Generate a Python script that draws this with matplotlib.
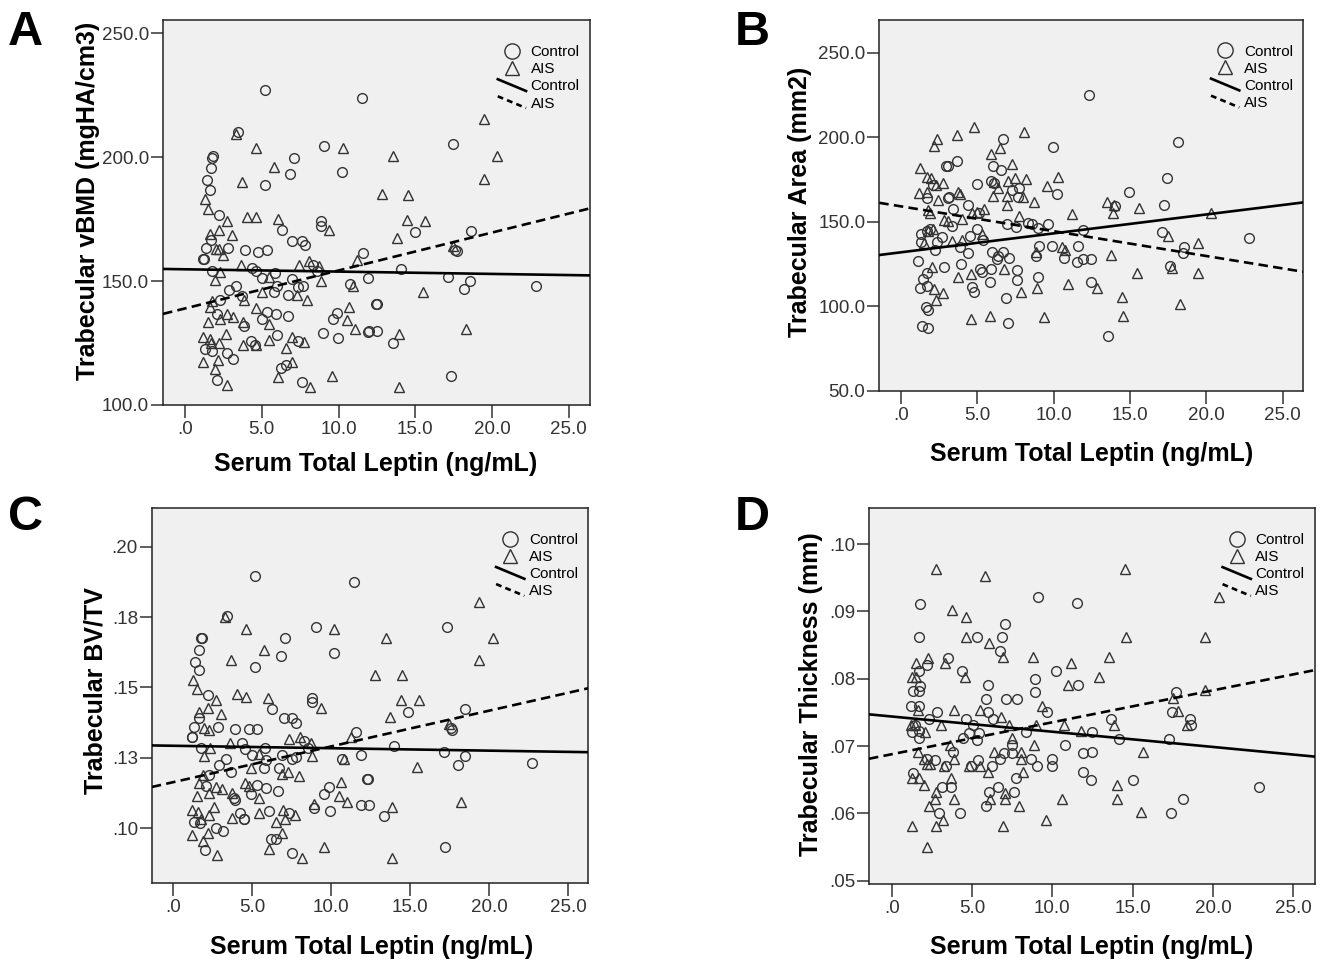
from decimal import Decimal, ROUND_HALF_UP

import matplotlib
matplotlib.use("Agg")
import matplotlib.pyplot as plt
import numpy as np
from matplotlib.legend_handler import HandlerLine2D
from matplotlib.lines import Line2D
from matplotlib.ticker import FuncFormatter, MultipleLocator

plt.rcParams["font.family"] = ["Liberation Sans", "DejaVu Sans"]

# ---- data: serum total leptin (x) vs trabecular parameters (y) ----
a_ctrl_x = [5.21, 11.5, 3.43, 1.8, 1.76, 1.67, 1.41, 1.63, 7.1, 9.06, 10.2, 6.84, 5.21, 2.21, 6.3,
            8.84, 8.84, 7.0, 7.6, 7.8, 1.67, 1.37, 2.82, 3.91, 4.78, 5.36, 1.19, 1.25, 11.6, 1.74,
            4.34, 4.63, 5.0, 5.86, 6.95, 8.32, 8.58, 11.94, 3.32, 2.89, 5.97, 5.8, 6.73, 7.38, 7.71,
            10.75, 3.69, 2.28, 2.06, 5.32, 5.93, 6.73, 5.0, 3.84, 9.62, 9.92, 11.94, 9.01, 9.99, 6.02,
            4.28, 4.56, 7.38, 1.3, 1.74, 2.71, 3.15, 6.23, 6.58, 2.06, 7.6,
            17.44, 14.98, 18.61, 17.6, 17.7, 14.05, 17.15, 18.57, 18.18, 22.87, 12.44, 12.5, 12.0,
            12.48, 13.57, 17.31]
a_ctrl_y = [227.0, 223.9, 210.3, 200.5, 199.8, 195.8, 190.7, 186.7, 199.8, 204.5, 194.2, 193.4, 188.8,
            176.8, 170.6, 174.1, 172.3, 166.3, 166.3, 164.7, 166.6, 163.4, 163.4, 162.6, 161.6, 162.6,
            158.9, 158.9, 161.2, 154.0, 155.3, 154.0, 151.3, 153.3, 150.9, 156.7, 154.0, 151.3, 148.2,
            146.5, 148.2, 145.6, 144.2, 147.6, 148.2, 148.9, 143.8, 142.5, 136.8, 137.5, 136.6, 135.8,
            134.8, 131.8, 134.8, 137.1, 129.5, 129.1, 127.2, 128.1, 125.9, 124.1, 125.9, 122.4, 121.8,
            120.8, 118.4, 115.1, 116.1, 110.0, 109.4,
            205.2, 169.7, 170.1, 162.6, 162.2, 154.9, 151.6, 150.0, 146.9, 148.0, 140.9, 140.9, 129.9,
            129.9, 125.1, 111.8]
a_ais_x = [3.32, 4.63, 10.27, 5.8, 3.73, 1.3, 1.52, 4.02, 4.63, 2.76, 6.04, 2.21, 3.04, 9.4, 1.63,
           2.0, 2.24, 2.45, 3.63, 7.45, 8.1, 8.75, 11.2, 2.28, 1.95, 5.5, 8.84, 10.92, 5.0, 3.84, 7.27,
           7.97, 1.74, 1.63, 4.63, 2.28, 2.76, 3.1, 1.52, 3.75, 5.5, 10.7, 10.53, 11.07, 1.19, 1.6, 1.7,
           2.24, 2.67, 3.8, 4.63, 5.5, 7.0, 7.75, 6.58, 1.19, 2.17, 1.95, 6.95, 6.08, 9.55, 2.76, 8.14,
           19.48, 13.53, 20.3, 19.48, 12.81, 14.55, 14.48, 15.64, 13.79, 17.44, 15.48, 18.31, 13.94,
           13.94]
a_ais_y = [209.5, 203.8, 203.8, 196.1, 190.2, 183.1, 179.0, 175.7, 175.7, 174.4, 175.0, 170.6, 168.7,
           170.7, 168.9, 162.8, 162.8, 160.7, 156.7, 156.7, 158.3, 155.9, 158.5, 153.6, 150.5, 151.8,
           150.0, 148.2, 145.6, 142.2, 144.2, 142.2, 141.9, 139.5, 139.3, 134.6, 136.8, 135.5, 133.5,
           133.5, 132.6, 139.5, 134.2, 130.8, 127.5, 126.5, 125.2, 125.0, 128.8, 124.1, 124.1, 126.1,
           127.5, 125.5, 122.8, 117.4, 118.1, 114.7, 117.4, 111.1, 111.7, 108.0, 107.1,
           215.6, 200.5, 200.5, 191.4, 185.1, 184.7, 174.6, 174.4, 167.4, 164.3, 145.6, 130.8, 128.8,
           107.1]

b_ctrl_x = [6.7, 9.98, 3.65, 2.95, 3.1, 6.05, 6.55, 4.96, 5.88, 6.1, 2.12, 7.3, 7.75, 7.64, 10.2, 1.68,
            3.05, 3.15, 4.37, 3.43, 5.1, 3.36, 6.92, 7.51, 8.3, 8.6, 8.95, 9.6, 1.31, 1.7, 1.9, 2.66,
            4.96, 4.52, 5.39, 1.31, 2.34, 2.23, 3.87, 4.37, 5.94, 6.7, 6.3, 6.36, 7.07, 9.04, 8.82, 9.91,
            10.7, 11.6, 11.5, 1.14, 1.68, 2.82, 3.93, 5.18, 5.29, 5.9, 7.58, 8.99, 1.46, 1.68, 1.24,
            4.63, 4.8, 5.83, 7.58, 6.86, 1.62, 1.75, 1.4, 1.75, 7.03,
            12.34, 18.12, 17.4, 14.93, 14.02, 17.25, 11.94, 17.12, 18.56, 18.5, 22.8, 11.94, 12.45,
            12.45, 17.62, 13.54]
b_ctrl_y = [198.7, 194.0, 186.1, 182.9, 182.9, 182.9, 180.6, 172.1, 174.2, 173.2, 171.7, 169.0, 170.0,
            164.4, 166.4, 163.8, 163.8, 164.4, 159.9, 157.5, 154.9, 147.6, 148.6, 146.6, 149.3, 148.6,
            146.1, 148.6, 142.7, 144.6, 145.4, 141.1, 145.5, 141.5, 139.2, 138.2, 138.2, 133.2, 134.8,
            131.7, 132.2, 132.2, 127.9, 129.5, 128.3, 135.8, 129.7, 135.8, 128.3, 135.8, 126.3, 126.9,
            119.8, 123.0, 125.0, 122.0, 120.0, 121.8, 121.4, 117.5, 115.9, 111.9, 110.9, 111.5, 108.6,
            114.5, 115.5, 104.6, 99.3, 97.7, 88.3, 86.9, 89.8,
            225.0, 197.3, 176.0, 167.4, 159.3, 159.9, 145.1, 143.7, 134.8, 131.7, 140.1, 127.7, 127.7,
            114.5, 124.0, 82.3]
b_ais_x = [4.8, 8.03, 2.34, 2.18, 3.65, 6.48, 5.9, 7.29, 1.24, 1.68, 2.0, 2.27, 2.77, 6.11, 6.33,
           7.03, 7.47, 8.17, 10.26, 9.54, 1.18, 1.68, 2.45, 3.76, 3.87, 6.05, 6.92, 7.97, 8.73, 6.92,
           1.79, 1.9, 4.02, 4.67, 4.96, 5.46, 7.73, 2.8, 3.1, 11.22, 1.75, 2.1, 1.53, 3.36, 5.32, 3.97,
           8.82, 10.52, 10.74, 2.01, 3.71, 4.59, 6.77, 2.18, 2.77, 2.27, 7.86, 8.89, 10.92, 4.59, 5.83,
           9.39,
           13.47, 13.97, 13.9, 15.59, 20.31, 17.47, 19.48, 13.76, 15.44, 17.73, 19.48, 12.82, 14.45,
           18.28, 14.56]
b_ais_y = [206.2, 202.9, 198.7, 194.8, 201.3, 193.4, 189.8, 184.1, 182.0, 176.6, 175.6, 171.7, 173.1,
           173.7, 169.7, 174.1, 175.8, 175.2, 176.6, 171.3, 166.8, 167.4, 162.8, 167.8, 166.2, 165.4,
           165.4, 164.4, 161.8, 159.9, 156.9, 155.3, 151.4, 155.3, 155.7, 157.3, 153.4, 151.0, 150.2,
           154.5, 144.6, 145.4, 137.6, 138.4, 142.5, 139.0, 132.2, 135.2, 133.2, 123.4, 117.5, 119.0,
           121.8, 110.0, 107.6, 103.6, 108.6, 110.6, 113.1, 92.4, 94.2, 93.4,
           161.8, 159.9, 154.9, 158.3, 154.9, 141.5, 137.2, 130.3, 119.8, 122.4, 119.8, 110.6, 105.2,
           101.3, 94.2]

c_ctrl_x = [5.18, 11.43, 3.37, 1.75, 1.82, 1.64, 1.39, 1.6, 9.0, 7.05, 10.16, 6.8, 5.18, 2.17, 6.23,
            8.75, 8.79, 7.01, 7.53, 7.74, 1.64, 1.33, 2.8, 3.91, 4.76, 5.32, 1.2, 1.15, 11.57, 1.75,
            4.34, 4.55, 4.97, 5.81, 6.86, 8.27, 8.54, 11.85, 3.33, 2.9, 3.64, 5.89, 5.75, 6.69, 7.53,
            7.74, 10.65, 2.27, 2.06, 4.9, 5.26, 5.85, 6.65, 3.82, 3.88, 9.85, 9.53, 12.27, 12.31, 8.9,
            9.91, 4.21, 4.5, 4.46, 6.02, 7.32, 11.85, 12.37, 1.33, 1.68, 2.69, 3.11, 6.17, 6.52, 2.02,
            7.49,
            17.32, 14.86, 18.48, 17.6, 17.64, 13.95, 17.11, 18.43, 18.0, 22.68, 13.32, 17.21]
c_ctrl_y = [.1894, .1874, .1754, .1675, .1675, .1633, .1592, .1562, .1714, .1675, .1624, .1613, .1574,
            .1474, .1423, .1462, .1450, .1391, .1391, .1373, .1391, .1361, .1361, .1352, .1352, .1352,
            .1323, .1323, .1343, .1284, .1304, .1281, .1260, .1284, .1260, .1311, .1284, .1260, .1245,
            .1223, .1201, .1243, .1213, .1213, .1246, .1252, .1245, .1189, .1150, .1122, .1154, .1142,
            .1133, .1107, .1101, .1146, .1122, .1174, .1174, .1071, .1063, .1053, .1032, .1032, .1063,
            .1053, .1083, .1083, .1024, .1020, .1000, .0992, .0961, .0961, .0923, .0914,
            .1714, .1414, .1423, .1355, .1349, .1292, .1272, .1255, .1223, .1233, .1044, .0933]
c_ais_x = [3.28, 4.59, 10.16, 5.74, 3.64, 1.22, 1.47, 2.69, 4.0, 4.59, 5.96, 9.32, 2.17, 1.6, 3.01,
           1.96, 2.27, 3.6, 7.32, 8.0, 8.69, 11.22, 2.31, 1.96, 5.43, 8.75, 10.79, 4.9, 6.86, 7.28,
           7.97, 1.85, 1.64, 4.55, 4.76, 2.69, 3.07, 2.23, 3.74, 5.43, 10.58, 10.48, 11.0, 1.47, 2.59,
           1.18, 1.54, 2.23, 1.75, 3.74, 5.39, 6.94, 7.7, 8.9, 6.52, 7.07, 2.17, 1.18, 6.86, 1.85,
           6.02, 9.53, 2.74, 8.12,
           19.36, 13.43, 20.2, 19.36, 12.75, 14.48, 14.41, 15.53, 13.7, 17.42, 15.43, 18.22, 13.85,
           13.85]
c_ais_y = [.1749, .1707, .1707, .1633, .1596, .1525, .1494, .1456, .1476, .1465, .1464, .1426, .1426,
           .1414, .1406, .1355, .1349, .1304, .1316, .1323, .1304, .1323, .1284, .1257, .1264, .1257,
           .1245, .1213, .1193, .1201, .1186, .1190, .1162, .1162, .1150, .1146, .1139, .1124, .1124,
           .1107, .1166, .1115, .1095, .1115, .1077, .1065, .1059, .1047, .1032, .1036, .1053, .1065,
           .1047, .1086, .1024, .1032, .0985, .0976, .0985, .0956, .0925, .0933, .0905, .0893,
           .1805, .1675, .1675, .1596, .1545, .1545, .1456, .1456, .1394, .1371, .1217, .1095, .1077,
           .0893]

d_ctrl_x = [9.1, 11.56, 1.77, 1.67, 5.31, 6.88, 7.08, 6.73, 3.5, 2.19, 1.67, 4.38, 10.25, 1.77, 1.35,
            1.67, 6.0, 8.92, 8.92, 11.63, 1.21, 1.71, 5.88, 7.13, 7.81, 9.69, 2.81, 6.0, 2.35, 4.63,
            1.25, 1.67, 1.71, 1.42, 6.29, 5.04, 4.79, 5.42, 5.31, 4.42, 8.38, 7.5, 10.79, 11.92, 3.79,
            2.19, 2.71, 3.38, 5.38, 6.25, 6.77, 6.98, 7.46, 8.65, 9.06, 10.0, 10.0, 11.92, 4.96, 1.35,
            3.13, 3.71, 6.63, 6.08, 7.6, 7.75, 5.88, 2.96, 4.27,
            17.71, 17.46, 18.58, 18.65, 13.65, 12.5, 14.13, 17.25, 12.5, 12.4, 15.0, 22.88, 18.17,
            17.4]
d_ctrl_y = [.0922, .0912, .0911, .0862, .0862, .0862, .0881, .0841, .0831, .0821, .0812, .0811, .0811,
            .0790, .0782, .0782, .0791, .0800, .0780, .0791, .0760, .0760, .0770, .0770, .0770, .0750,
            .0750, .0750, .0741, .0741, .0721, .0723, .0712, .0732, .0741, .0731, .0719, .0719, .0709,
            .0712, .0721, .0701, .0701, .0690, .0691, .0681, .0680, .0670, .0680, .0671, .0681, .0690,
            .0690, .0681, .0670, .0681, .0671, .0662, .0671, .0660, .0640, .0640, .0640, .0632, .0632,
            .0652, .0611, .0601, .0601,
            .0781, .0750, .0741, .0731, .0741, .0721, .0711, .0711, .0691, .0650, .0650, .0640, .0621,
            .0601]
d_ais_x = [2.75, 5.83, 3.75, 4.63, 4.63, 6.08, 6.92, 2.25, 1.5, 3.33, 8.79, 11.15, 1.25, 1.5, 4.58,
           11.0, 1.63, 3.85, 5.52, 9.38, 1.21, 1.46, 3.08, 2.04, 6.83, 7.33, 10.73, 11.77, 9.0, 7.5,
           1.63, 3.65, 6.35, 8.08, 8.85, 1.98, 2.19, 2.4, 3.85, 3.23, 4.83, 5.52, 8.02, 6.0, 8.17, 1.25,
           1.67, 1.98, 3.71, 2.75, 2.67, 3.85, 6.15, 7.08, 7.04, 10.58, 2.29, 7.92, 3.17, 2.75, 1.25,
           6.92, 9.63, 2.19,
           14.54, 14.58, 19.54, 20.4, 13.54, 12.88, 19.54, 17.5, 17.81, 13.85, 18.38, 15.67, 14.0,
           14.0, 15.52]
d_ais_y = [.0963, .0953, .0902, .0892, .0862, .0853, .0832, .0831, .0823, .0823, .0832, .0823, .0802,
           .0802, .0802, .0791, .0753, .0753, .0753, .0760, .0732, .0732, .0731, .0721, .0743, .0732,
           .0732, .0722, .0732, .0712, .0691, .0701, .0691, .0691, .0701, .0681, .0673, .0673, .0681,
           .0671, .0671, .0671, .0681, .0662, .0662, .0652, .0652, .0643, .0652, .0632, .0621, .0621,
           .0621, .0630, .0621, .0621, .0611, .0611, .0591, .0581, .0581, .0581, .0591, .0550,
           .0963, .0862, .0862, .0922, .0832, .0802, .0783, .0771, .0752, .0731, .0731, .0691, .0642,
           .0622, .0602]

# fitted regression lines (intercept, slope) as drawn by SPSS
ctrl_fit = [(154.77, -0.0935), (131.9, 1.12), (0.1293, -8.67e-5), (0.0744, -2.26e-4)]
ais_fit = [(138.96, 1.532), (159.1, -1.469), (0.1164, 0.001269), (0.0688, 4.74e-4)]

panel_letters = ["A", "B", "C", "D"]
y_labels = ["Trabecular vBMD (mgHA/cm3)", "Trabecular Area (mm2)",
            "Trabecular BV/TV", "Trabecular Thickness (mm)"]
x_label = "Serum Total Leptin (ng/mL)"
x_limits = [(-1.43, 26.38), (-1.42, 26.35), (-1.37, 26.27), (-1.42, 26.36)]
y_limits = [(100, 255.4), (50, 269.3), (0.0805, 0.2136), (0.0496, 0.1053)]
y_steps = [50, 50, 0.025, 0.01]
y_decimals = [1, 1, 2, 2]

# layout (figure fractions) and label offsets
axes_rects = [[0.1233, 0.5786, 0.3230, 0.4006], [0.6651, 0.5934, 0.3207, 0.3857],
              [0.1148, 0.0809, 0.3303, 0.3902], [0.6573, 0.0806, 0.3374, 0.3904]]
ylabel_pos = [(-0.148, 0.53), (-0.159, 0.51), (-0.102, 0.515), (-0.103, 0.505)]
xlabel_pos = [(0.499, -0.122), (0.50, -0.138), (0.504, -0.138), (0.50, -0.137)]
letter_pos = [(0.006, 0.99), (0.556, 0.99), (0.006, 0.485), (0.556, 0.485)]

INK = "#333333"


def spss_fmt(decimals):
    q = Decimal(1).scaleb(-decimals)

    def fmt(v, pos):
        s = str(Decimal(str(round(float(v), 8))).quantize(q, rounding=ROUND_HALF_UP))
        if s.startswith("0."):
            s = s[1:]
        return s
    return fmt


class DiagonalHandler(HandlerLine2D):
    def create_artists(self, legend, orig_handle, xdescent, ydescent, width, height,
                       fontsize, trans):
        line = Line2D([-xdescent, width - xdescent],
                      [height * 1.05 - ydescent, -height * 0.05 - ydescent])
        self.update_prop(line, orig_handle, legend)
        line.set_transform(trans)
        return [line]


def main():
    fig = plt.figure(figsize=(13.22, 9.61), dpi=100)

    data = [(a_ctrl_x, a_ctrl_y, a_ais_x, a_ais_y),
            (b_ctrl_x, b_ctrl_y, b_ais_x, b_ais_y),
            (c_ctrl_x, c_ctrl_y, c_ais_x, c_ais_y),
            (d_ctrl_x, d_ctrl_y, d_ais_x, d_ais_y)]

    for i, (cx, cy, ax_, ay) in enumerate(data):
        ax = fig.add_axes(axes_rects[i])
        ax.set_facecolor("#f0f0f0")

        ax.plot(cx, cy, "o", ms=7, mfc="none", mec=INK, mew=1.0, zorder=3)
        ax.plot(ax_, ay, "^", ms=6.5, mfc="none", mec=INK, mew=1.0, zorder=3)

        xs = np.array(x_limits[i])
        b0, b1 = ctrl_fit[i]
        ax.plot(xs, b0 + b1 * xs, color="black", lw=1.9, zorder=4)
        b0, b1 = ais_fit[i]
        ax.plot(xs, b0 + b1 * xs, color="black", lw=1.9, ls=(0, (3.6, 2.0)), zorder=4)

        ax.set_xlim(*x_limits[i])
        ax.set_ylim(*y_limits[i])
        ax.xaxis.set_major_locator(MultipleLocator(5))
        ax.yaxis.set_major_locator(MultipleLocator(y_steps[i]))
        ax.xaxis.set_major_formatter(FuncFormatter(spss_fmt(1)))
        ax.yaxis.set_major_formatter(FuncFormatter(spss_fmt(y_decimals[i])))
        ax.tick_params(axis="both", direction="out", length=9, width=1.1, color=INK,
                       labelsize=13.5, labelcolor=INK)
        ax.tick_params(axis="y", pad=1)
        ax.tick_params(axis="x", pad=2.5)
        for sp in ax.spines.values():
            sp.set_color("#222222")
            sp.set_linewidth(1.1)

        ax.set_ylabel(y_labels[i], fontsize=18, fontweight="bold")
        ax.yaxis.set_label_coords(*ylabel_pos[i])
        ax.set_xlabel(x_label, fontsize=18, fontweight="bold")
        ax.xaxis.set_label_coords(*xlabel_pos[i])

        handles = [
            Line2D([], [], ls="none", marker="o", ms=11, mfc="none", mec=INK, mew=1.0),
            Line2D([], [], ls="none", marker="^", ms=9.5, mfc="none", mec=INK, mew=1.0),
            Line2D([], [], color="black", lw=1.9),
            Line2D([], [], color="black", lw=1.9, ls=(0, (2.2, 1.6))),
        ]
        labels = ["Control", "AIS", "Control", "AIS"]
        ax.legend(handles, labels, loc="upper right", bbox_to_anchor=(0.99, 0.95),
                  frameon=False, fontsize=11, handlelength=1.85, handletextpad=0.3,
                  labelspacing=0.2, borderaxespad=0, borderpad=0.4,
                  handler_map={handles[2]: DiagonalHandler(), handles[3]: DiagonalHandler()})

        fig.text(*letter_pos[i], panel_letters[i], fontsize=35, fontweight="bold",
                 ha="left", va="top")

    fig.savefig("out.png", dpi=100, facecolor="white")


if __name__ == "__main__":
    main()
